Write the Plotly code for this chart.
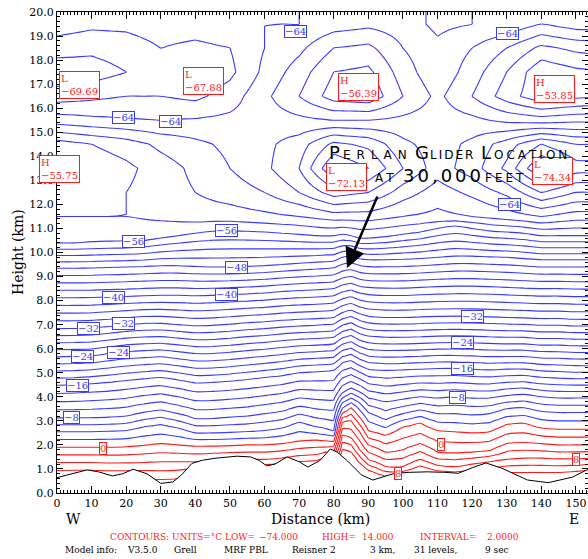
import numpy as np
import plotly.graph_objects as go

# ---------------- data ----------------
# model columns (km along the cross-section)
dist_cols = [0, 5, 10, 15, 20, 25, 30, 35, 40, 45, 50, 55, 60, 65, 70, 75, 80, 82.5, 85, 87.5,
             90, 95, 100, 105, 110, 115, 120, 125, 130, 135, 140, 145, 150, 155]

# heights (km) of selected isotherms (deg C) in every column
iso_temps = [14, 12, 8, 4, 0, -4, -8, -16, -24, -32, -40, -48, -56]
h_p14 = [-0.3, -0.25, -0.2, -0.2, -0.2, -0.2, -0.2, -0.15, 0.0, 0.1, 0.2, 0.2, 0.2, 0.2, 0.3, 0.4, 0.6, 1.55, 1.45, 1.0,
         0.7, 0.45, 0.45, 0.55, 0.45, 0.4, 0.45, 0.5, 0.55, 0.6, 0.6, 0.6, 0.65, 0.7]
h_p12 = [0.0, 0.05, 0.1, 0.1, 0.1, 0.1, 0.1, 0.15, 0.3, 0.4, 0.5, 0.5, 0.5, 0.5, 0.6, 0.7, 0.9, 1.8, 1.7, 1.25,
         0.95, 0.7, 0.7, 0.85, 0.7, 0.65, 0.7, 0.75, 0.85, 0.85, 0.85, 0.85, 0.9, 0.95]
h_p8 = [0.6, 0.62, 0.62, 0.6, 0.6, 0.6, 0.55, 0.6, 0.75, 0.85, 0.9, 0.95, 0.95, 1.0, 1.05, 1.1, 1.35, 2.4, 2.3, 1.8,
        1.4, 1.1, 1.1, 1.4, 1.15, 1.1, 1.2, 1.3, 1.4, 1.45, 1.45, 1.42, 1.42, 1.45]
h_p4 = [1.27, 1.27, 1.27, 1.25, 1.25, 1.27, 1.3, 1.3, 1.3, 1.35, 1.4, 1.4, 1.4, 1.45, 1.55, 1.6, 1.75, 2.95, 3.0, 2.55,
        2.0, 1.7, 1.8, 2.05, 1.7, 1.66, 1.7, 1.75, 2.05, 2.1, 2.05, 2.0, 2.0, 2.0]
h_0 = [1.9, 1.9, 1.9, 1.9, 1.92, 1.98, 2.05, 2.0, 1.95, 1.95, 1.97, 2.0, 2.0, 2.05, 2.15, 2.2, 2.15, 3.3, 3.55, 3.15,
       2.6, 2.4, 2.75, 2.9, 2.6, 2.55, 2.5, 2.55, 2.85, 2.9, 2.7, 2.65, 2.65, 2.65]
h_m4 = [2.55, 2.55, 2.55, 2.57, 2.6, 2.75, 2.85, 2.7, 2.5, 2.5, 2.52, 2.55, 2.6, 2.7, 2.95, 2.75, 2.6, 3.75, 3.95, 3.75,
        3.35, 3.05, 3.3, 3.45, 3.3, 3.3, 3.25, 3.3, 3.5, 3.55, 3.4, 3.35, 3.35, 3.35]
h_m8 = [3.12, 3.12, 3.13, 3.15, 3.2, 3.35, 3.45, 3.3, 3.1, 3.1, 3.15, 3.2, 3.3, 3.4, 3.6, 3.5, 3.45, 4.15, 4.35, 4.2,
        3.95, 3.8, 3.9, 4.0, 3.95, 4.0, 3.95, 3.95, 4.05, 4.1, 4.0, 3.95, 3.95, 3.95]
h_m16 = [4.48, 4.5, 4.55, 4.6, 4.68, 4.75, 4.8, 4.7, 4.58, 4.6, 4.65, 4.72, 4.8, 4.88, 5.0, 5.05, 5.1, 5.4, 5.5, 5.3,
         5.15, 5.1, 5.12, 5.15, 5.18, 5.18, 5.15, 5.12, 5.15, 5.15, 5.08, 5.05, 5.02, 5.02]
h_m24 = [5.66, 5.68, 5.7, 5.8, 5.88, 5.92, 5.95, 5.88, 5.8, 5.8, 5.85, 5.92, 5.98, 6.05, 6.12, 6.15, 6.2, 6.45, 6.55, 6.35,
         6.25, 6.2, 6.2, 6.22, 6.25, 6.26, 6.25, 6.22, 6.2, 6.2, 6.15, 6.15, 6.12, 6.12]
h_m32 = [6.84, 6.84, 6.86, 6.92, 7.0, 7.05, 7.05, 7.0, 6.95, 6.97, 7.02, 7.08, 7.12, 7.18, 7.22, 7.25, 7.3, 7.5, 7.6, 7.45,
         7.35, 7.3, 7.3, 7.32, 7.34, 7.35, 7.34, 7.32, 7.3, 7.28, 7.25, 7.25, 7.22, 7.22]
h_m40 = [8.12, 8.12, 8.13, 8.15, 8.17, 8.2, 8.22, 8.22, 8.2, 8.22, 8.25, 8.28, 8.32, 8.38, 8.42, 8.45, 8.5, 8.65, 8.72, 8.6,
         8.55, 8.52, 8.52, 8.55, 8.58, 8.6, 8.6, 8.58, 8.55, 8.52, 8.5, 8.5, 8.48, 8.48]
h_m48 = [9.35, 9.35, 9.36, 9.38, 9.4, 9.42, 9.45, 9.45, 9.42, 9.4, 9.4, 9.42, 9.45, 9.5, 9.55, 9.6, 9.65, 9.8, 9.85, 9.75,
         9.7, 9.7, 9.72, 9.75, 9.8, 9.85, 9.85, 9.82, 9.8, 9.75, 9.7, 9.7, 9.7, 9.7]
h_m56 = [10.4, 10.4, 10.42, 10.44, 10.45, 10.5, 10.6, 10.7, 10.8, 10.88, 10.9, 10.88, 10.85, 10.8, 10.75, 10.7, 10.7, 10.75,
         10.7, 10.6, 10.6, 10.65, 10.75, 10.85, 11.0, 11.1, 11.0, 10.9, 10.85, 10.8, 10.7, 10.7, 10.7, 10.7]

# temperatures (deg C) above the tropopause on a coarse grid
upper_dist = [0, 10, 20, 30, 40, 50, 60, 70, 80, 90, 100, 110, 120, 130, 140, 150, 160]
upper_z = [11.5, 12.5, 13.5, 14.5, 15.5, 16.5, 17.5, 18.5, 19.5, 20.5]
t_115 = [-58, -58, -58, -58.5, -59, -59, -59.5, -60, -61, -61, -60, -59.5, -60, -61, -62, -61, -61]
t_125 = [-57, -57.5, -58, -59, -60, -61, -62, -64, -67, -66, -63, -61, -62.5, -64.5, -68, -66, -66]
t_135 = [-55.7, -56.5, -57.5, -59, -60.5, -62, -63.5, -66, -72, -70, -66, -63, -65, -68.5, -74.3, -71, -71]
t_145 = [-57, -58, -59, -60.5, -61.5, -62.5, -63.5, -65, -68.5, -67.5, -64.5, -63, -64.5, -67, -70, -68, -68]
t_155 = [-63, -63.5, -63.8, -64, -63.8, -63.5, -63, -62.5, -62, -62, -62.5, -63, -62.5, -61.5, -61, -61.5, -61.5]
t_165 = [-67, -66.5, -66, -66, -66.5, -65, -62.5, -60, -57, -56.5, -60, -62.5, -60, -57, -54.5, -55.5, -56]
t_175 = [-69.5, -69, -68, -67, -68, -66.5, -63.5, -61, -58, -57.5, -61, -63.5, -61, -58, -54.5, -55.5, -56]
t_185 = [-67, -67.5, -67, -66, -66.5, -66, -64, -62.5, -60, -59.5, -62, -63.5, -62, -60, -57.5, -58.5, -59]
t_195 = [-65, -65.5, -65.5, -65, -65, -64.5, -64, -64, -63, -62.5, -63, -64.5, -64, -63.5, -62, -63, -63]
t_205 = [-64] * 17

# terrain profile
terrain_dist = [0, 5, 8.7, 12, 16, 19, 22, 26, 30, 33.5, 36, 39, 42, 46, 52, 56, 58.5, 60.6, 63, 66.5, 70, 72.5,
                76, 79, 81, 84, 88, 91.3, 94, 97.7, 102, 107, 112, 116, 120, 124, 128.6, 132, 136, 142,
                146, 149, 153, 155]
terrain_h = [0.64, 0.82, 0.96, 0.88, 0.71, 0.8, 0.99, 0.8, 0.4, 0.46, 0.75, 1.23, 1.36, 1.45, 1.53, 1.5, 1.35,
             1.13, 1.2, 1.5, 1.3, 1.08, 1.35, 1.83, 1.7, 1.33, 0.75, 0.54, 0.65, 0.82, 0.86, 0.88, 0.86, 0.82,
             1.05, 1.25, 1.03, 0.8, 0.54, 0.43, 0.55, 0.66, 0.95, 1.05]

# contour labels: text, distance (km), height (km)
blue_labels = [("−64", 19.2, 15.6), ("−64", 32.7, 15.45), ("−64", 69.0, 19.2), ("−64", 130.2, 19.1),
               ("−64", 130.9, 12.0), ("−56", 22.2, 10.46), ("−56", 48.9, 10.9), ("−48", 51.8, 9.38),
               ("−40", 16.3, 8.13), ("−40", 48.9, 8.25), ("−32", 9.0, 6.84), ("−32", 19.2, 7.03),
               ("−24", 7.5, 5.68), ("−24", 17.9, 5.86), ("−16", 5.8, 4.49), ("−8", 4.3, 3.12),
               ("−32", 120.2, 7.34), ("−24", 117.3, 6.26), ("−16", 117.3, 5.18), ("−8", 115.9, 3.99)]
red_labels = [("0", 13.4, 1.87), ("0", 111.1, 2.0), ("8", 98.7, 0.83), ("8", 150.0, 1.41)]
extreme_labels = [("L", "−69.69", 6.6, 16.96), ("L", "−67.88", 42.3, 17.15), ("H", "−56.39", 87.1, 16.88),
                  ("H", "−53.85", 143.8, 16.8), ("H", "−55.75", 0.7, 13.47), ("L", "−72.13", 83.7, 13.16),
                  ("L", "−74.34", 143.2, 13.37)]

# ---------------- build the grid ----------------
iso_heights = [h_p14, h_p12, h_p8, h_p4, h_0, h_m4, h_m8, h_m16, h_m24, h_m32, h_m40, h_m48, h_m56]
upper_t = [t_115, t_125, t_135, t_145, t_155, t_165, t_175, t_185, t_195, t_205]
z_fine = np.round(np.arange(0, 20.001, 0.1), 2)
grid = np.empty((len(z_fine), len(dist_cols)))
for j, xc in enumerate(dist_cols):
    up = [float(np.interp(xc, upper_dist, row)) for row in upper_t]
    zs = [h[j] for h in iso_heights] + list(upper_z)
    ts = list(iso_temps) + up
    grid[:, j] = np.interp(z_fine, zs, ts)

BLUE = "#3a3aff"
RED = "#ff1a1a"
SERIF = "DejaVu Serif"

fig = go.Figure()
fig.add_trace(go.Contour(
    x=dist_cols, y=z_fine, z=grid, autocontour=False,
    contours=dict(start=-74, end=-2, size=2, coloring="lines", showlabels=False),
    colorscale=[[0, BLUE], [1, BLUE]], showscale=False,
    line=dict(width=1.1, smoothing=0.8), hoverinfo="skip"))
fig.add_trace(go.Contour(
    x=dist_cols, y=z_fine, z=grid, autocontour=False,
    contours=dict(start=0, end=14, size=2, coloring="lines", showlabels=False),
    colorscale=[[0, RED], [1, RED]], showscale=False,
    line=dict(width=1.1, smoothing=0.8), hoverinfo="skip"))
fig.add_trace(go.Scatter(
    x=terrain_dist, y=terrain_h, mode="lines", line=dict(color="black", width=1),
    fill="tozeroy", fillcolor="white", hoverinfo="skip", showlegend=False))

for txt_, xk, zk in blue_labels:
    fig.add_annotation(x=xk, y=zk, text=txt_, showarrow=False,
                       font=dict(family=SERIF, size=10, color=BLUE),
                       bgcolor="white", bordercolor=BLUE, borderwidth=1, borderpad=0)
for txt_, xk, zk in red_labels:
    fig.add_annotation(x=xk, y=zk, text=txt_, showarrow=False,
                       font=dict(family=SERIF, size=10, color=RED),
                       bgcolor="white", bordercolor=RED, borderwidth=1, borderpad=0)
for kind, val, xk, zk in extreme_labels:
    fig.add_annotation(x=xk, y=zk, text=kind + "<br>" + val, showarrow=False, align="left",
                       font=dict(family=SERIF, size=10, color=RED),
                       bgcolor="white", bordercolor=RED, borderwidth=1, borderpad=1)

# ---------------- text (pixel positions converted to paper) ----------------
L0, R0, T0, B0 = 57, 588, 12, 493


def px(x):
    return (x - L0) / (R0 - L0)


def py(y):
    return (B0 - y) / (B0 - T0)


def txt(x, y, s, size, color="black", xanchor="center", angle=0, family=SERIF):
    fig.add_annotation(xref="paper", yref="paper", x=px(x), y=py(y), text=s, showarrow=False,
                       xanchor=xanchor, yanchor="middle", textangle=angle,
                       font=dict(family=family, size=size, color=color))


txt(18, 252, "Height (km)", 14, angle=-90)
txt(320, 519, "Distance (km)", 14)
txt(73, 519, "W", 14)
txt(574, 519, "E", 14)

red_bits = [(108, "CONTOURS:"), (170, "UNITS=°C"), (223, "LOW="), (257, "−74.000"), (320, "HIGH="),
            (360, "14.000"), (418, "INTERVAL="), (485, "2.0000")]
for x0, s in red_bits:
    txt(x0, 537, s, 9, color=RED, xanchor="left")
black_bits = [(63, "Model info:"), (125, "V3.5.0"), (172, "Grell"), (222, "MRF PBL"), (290, "Reisner 2"),
              (368, "3 km,"), (412, "31 levels,"), (483, "9 sec")]
for x0, s in black_bits:
    txt(x0, 550, s, 9, xanchor="left")

# small-caps title "Perlan Glider Location / at 30,000 feet": pieces placed at their left edge
# (text, left pixel, font size, baseline pixel, letter gap character)
title_pieces = [("P", 327, 18, 159, ""), ("ERLAN", 341, 12, 159, "\u2002"), ("G", 413, 18, 159, ""),
                ("LIDER", 428, 12, 159, "\u2006"), ("L", 479, 18, 159, ""), ("OCATION", 492, 12, 159, "\u2005"),
                ("AT", 373, 12, 182, "\u2005"), ("30,000", 401, 18, 182, "\u2006"), ("FEET", 483, 12, 182, "\u2005")]
for s, x0, size, base, gap in title_pieces:
    centre_y = base - 0.346 * size
    txt(x0, centre_y, gap.join(s), size, xanchor="left", family="DejaVu Sans")

# arrow to the glider location
fig.add_annotation(xref="paper", yref="paper", x=px(347), y=py(268), ax=31, ay=-73, text="",
                   showarrow=True, arrowhead=2, arrowsize=1.6, arrowwidth=2.5, arrowcolor="black")

axis_common = dict(showline=True, linecolor="black", linewidth=1, mirror="ticks", ticks="inside",
                   tickcolor="black", showgrid=False, zeroline=False, automargin=False,
                   tickfont=dict(family=SERIF, size=11, color="black"))
fig.update_xaxes(range=[0, 153.5], tickvals=list(range(0, 151, 10)), ticklen=7,
                 minor=dict(dtick=1, ticks="inside", ticklen=3, tickcolor="black"), **axis_common)
fig.update_yaxes(range=[0, 20], dtick=1, tickformat=".1f", ticklen=6,
                 minor=dict(dtick=0.2, ticks="inside", ticklen=3, tickcolor="black"), **axis_common)
fig.update_layout(width=588, height=559, margin=dict(l=L0, r=588 - R0, t=T0, b=559 - B0, autoexpand=False),
                  plot_bgcolor="white", paper_bgcolor="white", showlegend=False)
fig.write_html("out.html", config={"displayModeBar": False},
               post_script="document.body.style.margin='0px';")
